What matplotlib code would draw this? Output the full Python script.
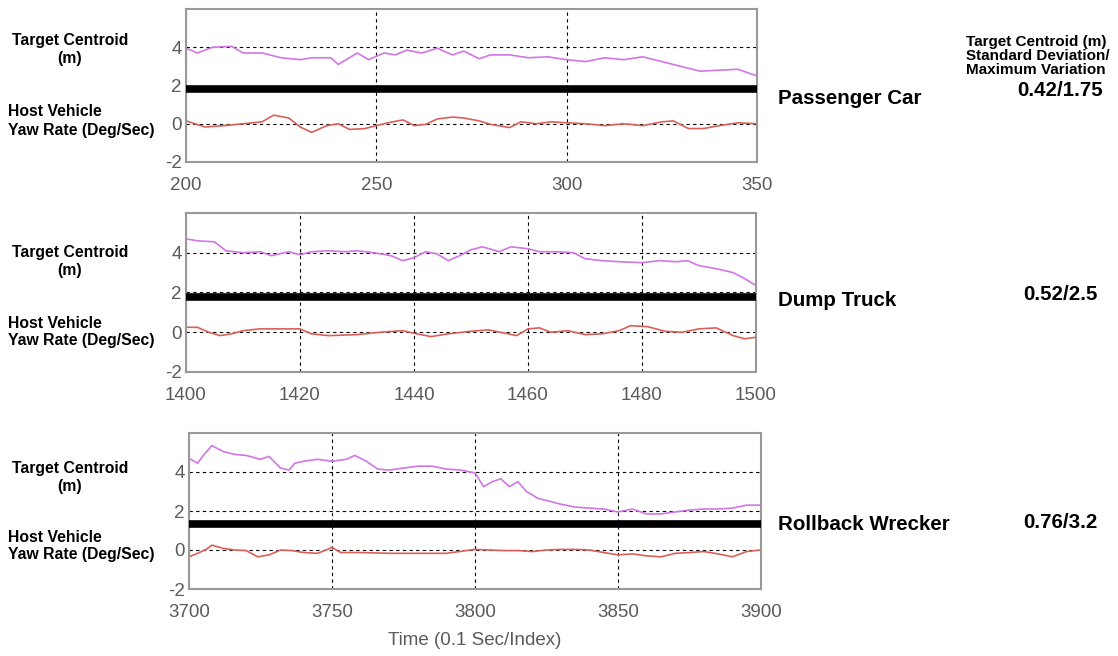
import matplotlib
matplotlib.use("Agg")
import matplotlib.pyplot as plt

plt.rcParams["axes.unicode_minus"] = False

# ---- data ----
car_t = [200, 203, 207, 212, 215, 220, 225, 230, 233, 238, 240, 245, 248, 252, 255, 258, 262, 266,
         270, 273, 277, 280, 285, 290, 295, 300, 305, 310, 315, 320, 325, 330, 335, 340, 345, 350]
car_centroid = [3.95, 3.7, 4.0, 4.05, 3.7, 3.7, 3.45, 3.35, 3.45, 3.45, 3.1, 3.7, 3.35, 3.7, 3.6, 3.85,
                3.7, 3.95, 3.6, 3.8, 3.4, 3.6, 3.6, 3.45, 3.5, 3.35, 3.25, 3.45, 3.35, 3.5, 3.25, 3.0,
                2.75, 2.8, 2.85, 2.5]
car_yaw_t = [200, 205, 210, 215, 220, 223, 227, 230, 233, 237, 240, 243, 247, 250, 253, 257, 260, 263,
             266, 270, 273, 277, 280, 285, 288, 292, 296, 300, 305, 310, 315, 320, 325, 328, 332, 336,
             340, 345, 350]
car_yaw = [0.15, -0.17, -0.1, 0.0, 0.1, 0.45, 0.3, -0.17, -0.45, -0.1, 0.0, -0.3, -0.25, -0.1, 0.05,
           0.2, -0.1, -0.03, 0.25, 0.35, 0.3, 0.15, -0.03, -0.2, 0.1, 0.0, 0.1, 0.05, 0.0, -0.1, 0.0,
           -0.1, 0.1, 0.15, -0.25, -0.25, -0.1, 0.05, 0.0]

truck_t = [1400, 1402, 1405, 1407, 1410, 1413, 1415, 1418, 1420, 1422, 1425, 1428, 1430, 1433, 1436,
           1438, 1440, 1442, 1444, 1446, 1448, 1450, 1452, 1455, 1457, 1460, 1462, 1465, 1468, 1470,
           1473, 1476, 1480, 1483, 1486, 1488, 1490, 1493, 1496, 1498, 1500]
truck_centroid = [4.7, 4.6, 4.55, 4.1, 4.0, 4.05, 3.85, 4.05, 3.9, 4.05, 4.1, 4.05, 4.1, 4.0, 3.85,
                  3.6, 3.75, 4.05, 3.95, 3.6, 3.85, 4.15, 4.3, 4.05, 4.3, 4.2, 4.05, 4.05, 4.0, 3.7,
                  3.6, 3.55, 3.5, 3.6, 3.55, 3.6, 3.35, 3.2, 3.0, 2.7, 2.35]
truck_yaw_t = [1400, 1402, 1404, 1406, 1408, 1410, 1413, 1416, 1420, 1422, 1425, 1430, 1434, 1438,
               1440, 1443, 1446, 1450, 1453, 1456, 1458, 1460, 1462, 1464, 1467, 1470, 1473, 1476,
               1478, 1481, 1484, 1487, 1490, 1493, 1496, 1498, 1500]
truck_yaw = [0.25, 0.25, 0.0, -0.17, -0.08, 0.08, 0.17, 0.17, 0.17, -0.08, -0.17, -0.12, 0.0, 0.08,
             -0.05, -0.22, -0.08, 0.05, 0.12, -0.05, -0.17, 0.17, 0.22, 0.0, 0.08, -0.12, -0.08, 0.08,
             0.33, 0.28, 0.05, 0.0, 0.17, 0.22, -0.17, -0.33, -0.25]

wreck_t = [3700, 3703, 3705, 3708, 3712, 3716, 3720, 3725, 3728, 3732, 3735, 3737, 3740, 3745, 3750,
           3755, 3758, 3762, 3766, 3770, 3775, 3780, 3785, 3790, 3795, 3800, 3803, 3806, 3809, 3812,
           3815, 3818, 3822, 3826, 3830, 3835, 3840, 3845, 3850, 3855, 3860, 3865, 3870, 3875, 3880,
           3885, 3890, 3895, 3900]
wreck_centroid = [4.7, 4.45, 4.85, 5.35, 5.05, 4.9, 4.85, 4.65, 4.8, 4.2, 4.1, 4.45, 4.55, 4.65, 4.55,
                  4.65, 4.85, 4.55, 4.15, 4.1, 4.2, 4.3, 4.3, 4.15, 4.1, 3.95, 3.25, 3.5, 3.65, 3.25,
                  3.5, 3.0, 2.65, 2.5, 2.35, 2.2, 2.15, 2.1, 1.95, 2.1, 1.85, 1.85, 1.95, 2.05, 2.1,
                  2.1, 2.15, 2.3, 2.3]
wreck_yaw_t = [3700, 3703, 3706, 3708, 3712, 3716, 3720, 3724, 3728, 3732, 3736, 3740, 3745, 3750,
               3753, 3760, 3770, 3780, 3790, 3800, 3805, 3810, 3815, 3820, 3825, 3830, 3835, 3840,
               3845, 3850, 3855, 3860, 3865, 3870, 3875, 3880, 3885, 3890, 3895, 3900]
wreck_yaw = [-0.35, -0.17, 0.03, 0.25, 0.08, 0.0, -0.03, -0.35, -0.25, 0.0, -0.03, -0.13, -0.17, 0.13,
             -0.13, -0.13, -0.17, -0.17, -0.17, 0.03, 0.0, -0.03, -0.03, -0.08, 0.0, 0.03, 0.03, 0.0,
             -0.13, -0.25, -0.2, -0.3, -0.35, -0.17, -0.13, -0.08, -0.2, -0.35, -0.08, 0.0]

vehicles = ["Passenger Car", "Dump Truck", "Rollback Wrecker"]
stats = ["0.42/1.75", "0.52/2.5", "0.76/3.2"]
bar_level = [1.8, 1.75, 1.35]
x_ticks = [[200, 250, 300, 350],
           [1400, 1420, 1440, 1460, 1480, 1500],
           [3700, 3750, 3800, 3850, 3900]]
y_ticks = [-2, 0, 2, 4]

panels = [(car_t, car_centroid, car_yaw_t, car_yaw),
          (truck_t, truck_centroid, truck_yaw_t, truck_yaw),
          (wreck_t, wreck_centroid, wreck_yaw_t, wreck_yaw)]

W, H = 1118, 656
fig = plt.figure(figsize=(W / 100, H / 100), dpi=100)

# axes boxes in pixels: left, top, right, bottom
boxes = [(186, 9, 757, 162), (186, 213, 756, 372), (189, 433, 761, 589)]
tickfont = ["Liberation Sans", "DejaVu Sans"]
bold = ["Liberation Sans", "DejaVu Sans"]

for i, (t, cen, yt, yaw) in enumerate(panels):
    l, tp, r, b = boxes[i]
    ax = fig.add_axes([l / W, 1 - b / H, (r - l) / W, (b - tp) / H])
    ax.plot(t, cen, color="#d276e6", lw=1.2, zorder=2)
    ax.plot(yt, yaw, color="#d9605a", lw=1.2, zorder=2)
    ax.plot([x_ticks[i][0], x_ticks[i][-1]], [bar_level[i]] * 2, color="black", lw=5.5,
            solid_capstyle="butt", zorder=4)
    ax.set_xlim(x_ticks[i][0], x_ticks[i][-1])
    ax.set_ylim(-2, 6)
    ax.set_xticks(x_ticks[i])
    ax.set_yticks(y_ticks)
    ax.grid(True, color="black", ls=(0, (3, 3)), lw=0.8, zorder=3)
    ax.tick_params(axis="x", length=0, pad=11, colors="#5a5a5a")
    ax.tick_params(axis="y", length=0, pad=3, colors="#5a5a5a")
    for lab in ax.get_xticklabels() + ax.get_yticklabels():
        lab.set_family(tickfont)
        lab.set_fontsize(13.5)
    for s in ax.spines.values():
        s.set_color("#999999")
        s.set_linewidth(1.5)
    if i == 2:
        ax.set_xlabel("Time (0.1 Sec/Index)", fontsize=13.5, family=tickfont, color="#5a5a5a",
                      labelpad=8)

# left-hand labels (pixel y positions)
left_text = [(40, 58, 112, 130), (252, 270, 323, 341), (469, 486, 538, 555)]
for (y1, y2, y3, y4) in left_text:
    fig.text(70 / W, 1 - y1 / H, "Target Centroid", ha="center", va="center",
             fontsize=11.3, weight="bold", family=bold)
    fig.text(70 / W, 1 - y2 / H, "(m)", ha="center", va="center",
             fontsize=11.3, weight="bold", family=bold)
    fig.text(8 / W, 1 - y3 / H, "Host Vehicle", ha="left", va="center",
             fontsize=11.3, weight="bold", family=bold)
    fig.text(8 / W, 1 - y4 / H, "Yaw Rate (Deg/Sec)", ha="left", va="center",
             fontsize=11.3, weight="bold", family=bold)

# right-hand labels
name_y = [99, 301, 524]
stat_y = [91, 295, 522]
for name, st, ny, sy in zip(vehicles, stats, name_y, stat_y):
    fig.text(778 / W, 1 - ny / H, name, ha="left", va="center",
             fontsize=14.8, weight="bold", family=bold)
    fig.text(1060 / W, 1 - sy / H, st, ha="center", va="center",
             fontsize=14.8, weight="bold", family=bold)

fig.text(966 / W, 1 - 56 / H, "Target Centroid (m)\nStandard Deviation/\nMaximum Variation",
         ha="left", va="center", fontsize=11, weight="bold", family=bold, linespacing=1.0)

fig.savefig("out.png", dpi=100)
